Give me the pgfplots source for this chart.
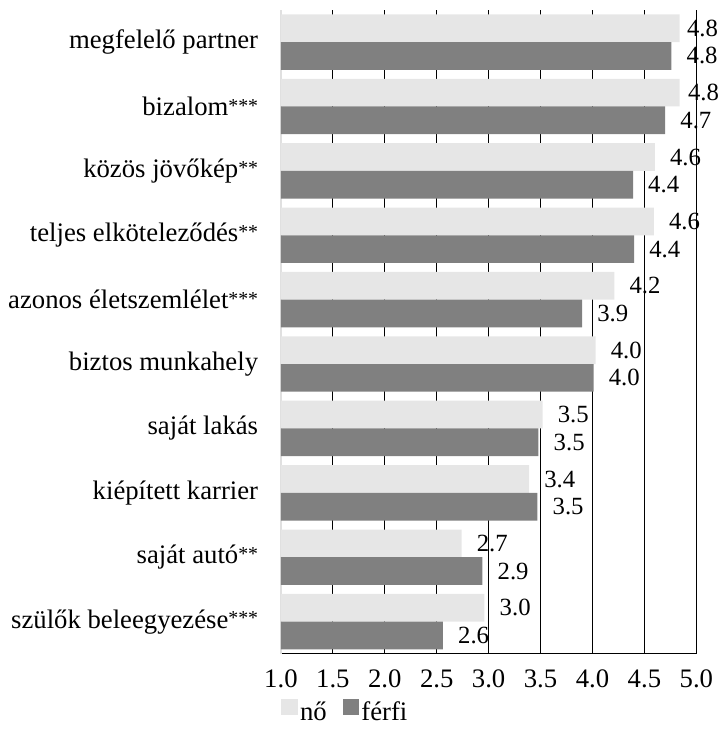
\documentclass[border=0pt]{standalone}
\usepackage{fontspec}
\setmainfont{Liberation Serif}
\usepackage{pgfplots}
\usepackage{pgfplotstable}
\pgfplotsset{compat=1.18}
\definecolor{noColor}{HTML}{E6E6E6}
\definecolor{ferfiColor}{HTML}{808080}
\newcommand{\stars}[1]{\raisebox{0.25ex}{\fontsize{10}{12}\selectfont #1}}

% values, top group = 9; *off = label gap in pt
\pgfplotstableread{
y no ferfi nooff ferfioff
9 4.84 4.76 1 5
8 4.84 4.70 1.5 5
7 4.60 4.39 5 5
6 4.59 4.40 5 5
5 4.21 3.90 5 5
4 4.03 4.01 5 5
3 3.52 3.48 5 5
2 3.39 3.47 5 5
1 2.74 2.94 5 5
0 2.96 2.56 5 5
}\mydata

\begin{document}
\begin{tikzpicture}
\begin{axis}[
    scale only axis,
    width=210pt, height=325.5pt,
    xmin=1, xmax=5, ymin=-0.5, ymax=9.5,
    xbar, bar width=14pt,
    axis x line*=bottom, axis y line*=left,
    x axis line style={black, line width=0.6pt, -},
    y axis line style={black!12, line width=0.6pt, -},
    xtick={1.5,2,...,5},
    extra x ticks={1},
    extra x tick style={grid=none},
    xmajorgrids, major grid style={black, line width=0.5pt},
    major tick length=0pt,
    ytick={0,...,9},
    yticklabels={szülők beleegyezése\stars{***}, saját autó\stars{**}, kiépített karrier, saját lakás, biztos munkahely, azonos életszemlélet\stars{***}, teljes elköteleződés\stars{**}, közös jövőkép\stars{**}, bizalom\stars{***}, megfelelő partner},
    tick label style={font=\fontsize{13.5}{16}\selectfont},
    yticklabel style={xshift=-8pt},
    xticklabel style={inner sep=1pt, yshift=-7pt},
    /pgf/number format/assume math mode=true,
    xticklabel={\pgfmathprintnumber[fixed, fixed zerofill, precision=1]{\tick}},
    nodes near coords={\pgfmathprintnumber[fixed, fixed zerofill, precision=1]{\pgfplotspointmeta}},
    nodes near coords style={anchor=west, inner sep=2.5pt, xshift=\myoff pt, font=\fontsize{12.5}{15}\selectfont},
    point meta=explicit,
    legend style={at={(0,-0.112)}, anchor=south west, draw=none, legend columns=2,
        inner sep=0pt, nodes={inner sep=1pt}, font=\fontsize{13.5}{16}\selectfont,
        /tikz/every even column/.append style={column sep=7pt}},
    legend image code/.code={\fill[#1] (0pt,-1pt) rectangle (8.5pt,7pt);},
]
\addplot[fill=noColor, draw=none, bar shift=7pt,
    visualization depends on={\thisrow{nooff} \as \myoff}]
    table[x=no, y=y, meta=no] {\mydata};
\addplot[fill=ferfiColor, draw=none, bar shift=-7pt,
    visualization depends on={\thisrow{ferfioff} \as \myoff}]
    table[x=ferfi, y=y, meta=ferfi] {\mydata};
\legend{nő, férfi}
\coordinate (ll) at (rel axis cs:0,0);
\coordinate (ur) at (rel axis cs:1,1);
\end{axis}
\pgfresetboundingbox
\path ([xshift=-142pt, yshift=-38pt]ll) rectangle ([xshift=12.5pt, yshift=5pt]ur);
\end{tikzpicture}
\end{document}
